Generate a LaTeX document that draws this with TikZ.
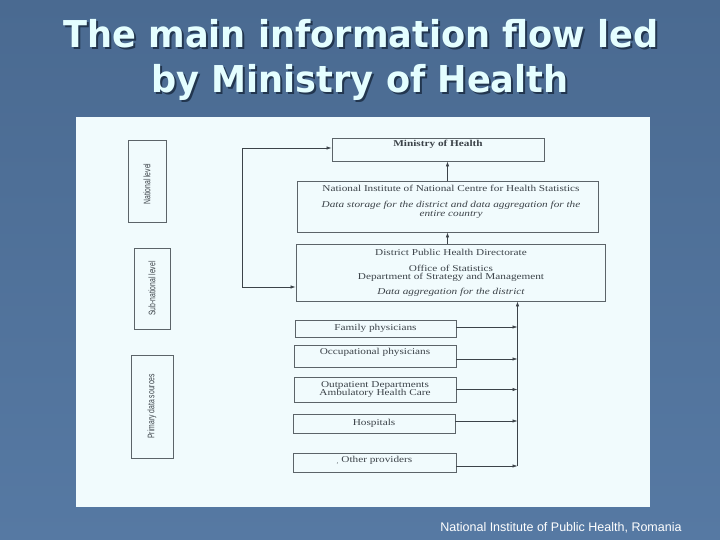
\documentclass[tikz,border=0pt]{standalone}
\usepackage{fontspec}
\usetikzlibrary{arrows.meta}
\newfontfamily\titlefont[FakeStretch=0.95]{DejaVu Sans Bold}
\newfontfamily\scan[FakeStretch=1.25]{Liberation Serif}
\newfontfamily\lvlfont[FakeStretch=0.72]{Liberation Sans}
\newfontfamily\footfont{Liberation Sans}
\definecolor{bgtop}{HTML}{4A6A91}
\definecolor{bgbot}{HTML}{5679A3}
\definecolor{paper}{HTML}{F1FBFD}
\definecolor{ink}{HTML}{3C4349}
\definecolor{edge}{HTML}{5C6469}
\definecolor{titlec}{HTML}{E4FEFF}
\definecolor{shadowc}{HTML}{22364F}
\newcommand{\shadowtext}[1]{\makebox[0pt][l]{\kern2pt\raisebox{-2pt}{\color{shadowc}#1}}#1}
\tikzset{
  boxst/.style={draw=edge, line width=0.8pt, inner sep=0pt, minimum width=#1},
  boxst/.default=10pt,
  txt/.style={text=ink, font=\scan\fontsize{9}{10}\selectfont, inner sep=0pt, align=center},
  itxt/.style={txt, font=\scan\itshape\fontsize{9}{10}\selectfont},
  lvl/.style={draw=edge, line width=0.8pt, inner sep=0pt},
  lvltxt/.style={rotate=90, text=ink, font=\lvlfont\fontsize{9.5}{11}\selectfont, inner sep=0pt},
  arr/.style={draw=ink, line width=0.6pt, -{Latex[length=5pt,width=3.4pt]}},
  ttl/.style={font=\titlefont\fontsize{37}{45}\selectfont, inner sep=0pt, anchor=base, text=titlec}
}
\begin{document}
\begin{tikzpicture}[x=1pt,y=-1pt]
\useasboundingbox (0,0) rectangle (720,540);
\shade[top color=bgtop, bottom color=bgbot] (0,0) rectangle (720,540);
\fill[paper] (76,117) rectangle (650,507);

% title
\node[ttl] (t1) at (361,48) {\shadowtext{The main information flow led}};
\node[ttl] (t2) at (360,93) {\shadowtext{by Ministry of Health}};

% level boxes
\node[lvl, minimum width=38pt, minimum height=82pt] (nat) at (147,181) {};
\node[lvltxt] (natt) at ([yshift=-3pt]nat.center) {National level};
\node[lvl, minimum width=36pt, minimum height=81pt] (sub) at (152,288.5) {};
\node[lvltxt] (subt) at (sub.center) {Sub-national level};
\node[lvl, minimum width=42pt, minimum height=103pt] (prim) at (152,406.5) {};
\node[lvltxt] (primt) at (prim.center) {Primary data sources};

% main boxes
\node[boxst=212pt, minimum height=23pt] (min) at (438,149.5) {};
\node[txt, font=\scan\bfseries\fontsize{9}{10}\selectfont] (mint) at (438,144.5) {Ministry of Health};

\node[boxst=301pt, minimum height=51pt] (ni) at (447.5,206.5) {};
\node[txt] (ni1) at (451,188.5) {National Institute of National Centre for Health Statistics};
\node[itxt] (ni2) at (451,205.5) {Data storage for the district and data aggregation for the};
\node[itxt] (ni3) at (451,214) {entire country};

\node[boxst=309pt, minimum height=57pt] (dist) at (450.5,272.5) {};
\node[txt] (d1) at (451,252.5) {District Public Health Directorate};
\node[txt] (d2) at (451,268) {Office of Statistics};
\node[txt] (d3) at (451,277) {Department of Strategy and Management};
\node[itxt] (d4) at (451,292.5) {Data aggregation for the district};

% providers
\node[boxst=161pt, minimum height=17pt, txt] (fam) at (375.5,328.5) {Family physicians};
\node[boxst=162pt, minimum height=22pt] (occ) at (375,356) {};
\node[txt] (occt) at (375,352.5) {Occupational physicians};
\node[boxst=162pt, minimum height=25pt, txt] (outp) at (375,389.5) {Outpatient Departments\\[-1.5pt]Ambulatory Health Care};
\node[boxst=162pt, minimum height=19pt, txt] (hosp) at (374,423.5) {Hospitals};
\node[boxst=163pt, minimum height=19pt] (oth) at (374.5,462.5) {};
\node[txt] (otht) at (374.5,460.5) {\raisebox{-1pt}{\fontsize{6}{6}\selectfont ,}\ Other providers};

% connectors
\draw[arr] (ni.north) -- (ni.north |- min.south);
\draw[arr] (ni.south |- dist.north) -- (ni.south);
\coordinate (lc) at (242,287);
\draw[arr, {Latex[length=5pt,width=3.4pt]}-{Latex[length=5pt,width=3.4pt]}] ([yshift=1.5pt]min.west) -| (lc) -- (lc -| dist.west);
\coordinate (bb) at (517.5,466);
\draw[arr] (bb) -- (bb |- dist.south);
\draw[arr] ([yshift=1.5pt]fam.east) -- ([yshift=1.5pt]fam.east -| bb);
\draw[arr] ([yshift=-3pt]occ.east) -- ([yshift=-3pt]occ.east -| bb);
\draw[arr] (outp.east) -- (outp.east -| bb);
\draw[arr] ([yshift=2.5pt]hosp.east) -- ([yshift=2.5pt]hosp.east -| bb);
\draw[arr] ([yshift=-3.5pt]oth.east) -- ([yshift=-3.5pt]oth.east -| bb);

% footer
\node[text=white, font=\footfont\fontsize{12.5}{14}\selectfont, inner sep=0pt] (foot) at (561,528) {National Institute of Public Health, Romania};
\end{tikzpicture}
\end{document}
